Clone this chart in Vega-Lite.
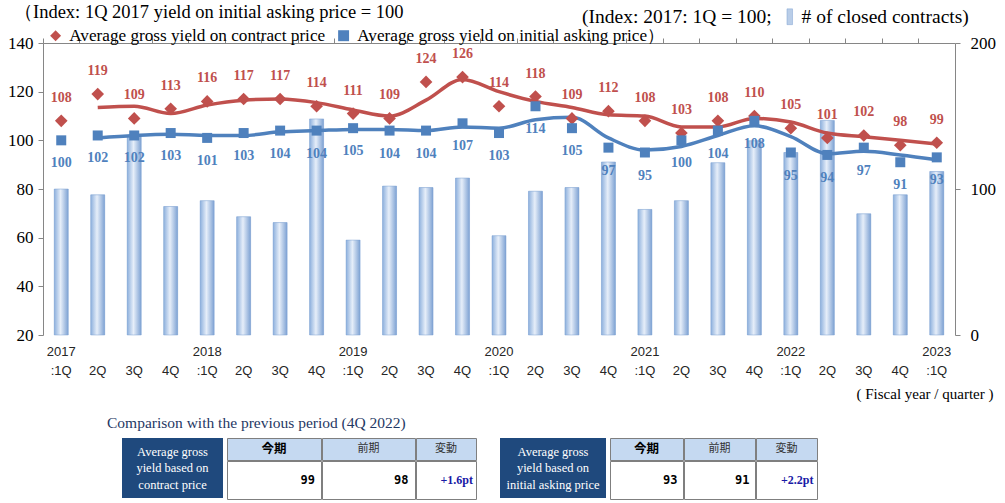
{
  "$schema": "https://vega.github.io/schema/vega-lite/v6.json",
  "padding": {"left": 7, "top": 2, "right": 0, "bottom": 0},
  "background": "white",
  "config": {
    "view": {"stroke": null},
    "axis": {"grid": false},
    "concat": {"spacing": 14}
  },
  "spacing": 15,
  "vconcat": [
    {
      "width": 912,
      "height": 292,
      "title": {"text": "（Index: 1Q 2017 yield on initial asking price = 100", "anchor": "start", "frame": "group", "dx": -29, "offset": 13, "font": "Liberation Serif", "fontSize": 18.5, "fontWeight": "normal", "color": "#000000"},
      "data": {"values": [
        {"q": "2017 :1Q", "contract": 108, "asking": 100, "count": 100},
        {"q": "2017 2Q", "contract": 119, "asking": 102, "count": 96, "lineC": 113.5, "lineA": 101},
        {"q": "2017 3Q", "contract": 109, "asking": 102, "count": 136, "lineC": 114, "lineA": 102},
        {"q": "2017 4Q", "contract": 113, "asking": 103, "count": 88, "lineC": 111, "lineA": 102.5},
        {"q": "2018 :1Q", "contract": 116, "asking": 101, "count": 92, "lineC": 114.5, "lineA": 102},
        {"q": "2018 2Q", "contract": 117, "asking": 103, "count": 81, "lineC": 116.5, "lineA": 102},
        {"q": "2018 3Q", "contract": 117, "asking": 104, "count": 77, "lineC": 117, "lineA": 103.5},
        {"q": "2018 4Q", "contract": 114, "asking": 104, "count": 148, "lineC": 115.5, "lineA": 104},
        {"q": "2019 :1Q", "contract": 111, "asking": 105, "count": 65, "lineC": 112.5, "lineA": 104.5},
        {"q": "2019 2Q", "contract": 109, "asking": 104, "count": 102, "lineC": 110, "lineA": 104.5},
        {"q": "2019 3Q", "contract": 124, "asking": 104, "count": 101, "lineC": 116.5, "lineA": 104},
        {"q": "2019 4Q", "contract": 126, "asking": 107, "count": 107.5, "lineC": 125, "lineA": 105.5},
        {"q": "2020 :1Q", "contract": 114, "asking": 103, "count": 68, "lineC": 120, "lineA": 105},
        {"q": "2020 2Q", "contract": 118, "asking": 114, "count": 98.5, "lineC": 116, "lineA": 108.5},
        {"q": "2020 3Q", "contract": 109, "asking": 105, "count": 101, "lineC": 113.5, "lineA": 109.5},
        {"q": "2020 4Q", "contract": 112, "asking": 97, "count": 118.5, "lineC": 110.5, "lineA": 101},
        {"q": "2021 :1Q", "contract": 108, "asking": 95, "count": 86, "lineC": 110, "lineA": 96},
        {"q": "2021 2Q", "contract": 103, "asking": 100, "count": 92, "lineC": 105.5, "lineA": 97.5},
        {"q": "2021 3Q", "contract": 108, "asking": 104, "count": 118, "lineC": 105.5, "lineA": 102},
        {"q": "2021 4Q", "contract": 110, "asking": 108, "count": 133, "lineC": 109, "lineA": 106},
        {"q": "2022 :1Q", "contract": 105, "asking": 95, "count": 125, "lineC": 107.5, "lineA": 101.5},
        {"q": "2022 2Q", "contract": 101, "asking": 94, "count": 147, "lineC": 103, "lineA": 94.5},
        {"q": "2022 3Q", "contract": 102, "asking": 97, "count": 83, "lineC": 101.5, "lineA": 95.5},
        {"q": "2022 4Q", "contract": 98, "asking": 91, "count": 96, "lineC": 100, "lineA": 94},
        {"q": "2023 :1Q", "contract": 99, "asking": 93, "count": 112, "lineC": 98.5, "lineA": 92}
      ]},
      "layer": [
        {
          "mark": {"type": "bar", "size": 14},
          "encoding": {
            "x": {"field": "q", "type": "ordinal", "sort": null, "scale": {"paddingInner": 0, "paddingOuter": 0},
              "axis": {"ticks": false, "domain": false, "labelAngle": 0,
                "labelExpr": "indexof(datum.value, ':') >= 0 ? split(datum.value, ' ') : ['', split(datum.value, ' ')[1]]",
                "labelFont": "Liberation Sans", "labelFontSize": 13, "labelColor": "#262626", "labelPadding": 10, "labelLineHeight": 19,
                "title": "( Fiscal year / quarter )", "titleFont": "Liberation Serif", "titleFontSize": 15, "titleFontWeight": "normal", "titleColor": "#000000",
                "titleX": 950, "titleY": 58, "titleAlign": "right", "titleBaseline": "middle"}},
            "y": {"field": "count", "type": "quantitative", "scale": {"domain": [0, 200], "nice": false},
              "axis": {"orient": "right", "values": [0, 100, 200], "tickSize": 5, "labelPadding": 10, "labelFont": "Liberation Serif", "labelFontSize": 17, "labelColor": "#000000", "domainColor": "#868686", "tickColor": "#868686", "title": null}},
            "fill": {"datum": "# of closed contracts)", "type": "nominal",
              "scale": {"range": ["#B9CDE8"]},
              "legend": {"orient": "none", "legendX": 539, "legendY": -36, "title": "(Index: 2017: 1Q = 100;", "titleOrient": "left", "titleFont": "Liberation Serif", "titleFontSize": 19.5, "titleFontWeight": "normal", "titleColor": "#000000", "titleLimit": 500, "titlePadding": 8, "labelFont": "Liberation Serif", "labelFontSize": 19.5, "labelColor": "#000000", "labelLimit": 500, "labelOffset": 2, "symbolType": "M-0.35,-1H0.35V1H-0.35Z", "symbolSize": 250, "symbolStrokeColor": "#7EA2D3", "symbolStrokeWidth": 0.5}}
          }
        },
        {
          "mark": {"type": "bar", "size": 14, "stroke": "#7EA2D3", "strokeWidth": 0.5,
            "fill": {"gradient": "linear", "x1": 0, "y1": 0, "x2": 1, "y2": 0, "stops": [{"offset": 0, "color": "#8DB0DD"}, {"offset": 0.45, "color": "#E6EEF9"}, {"offset": 1, "color": "#7EA2D3"}]}},
          "encoding": {
            "x": {"field": "q", "type": "ordinal", "sort": null, "axis": null},
            "y": {"field": "count", "type": "quantitative", "scale": {"domain": [0, 200], "nice": false}, "axis": null}
          }
        },
        {
          "encoding": {
            "x": {"field": "q", "type": "ordinal", "sort": null,
              "axis": {"bandPosition": 0, "labels": false, "ticks": true, "tickSize": 5, "domain": true, "domainColor": "#868686", "tickColor": "#868686", "title": null}}
          },
          "layer": [
            {
              "mark": {"type": "line", "color": "#C0504D", "strokeWidth": 3.5, "interpolate": "monotone"},
              "encoding": {"y": {"field": "lineC", "type": "quantitative", "title": null, "scale": {"domain": [20, 140], "nice": false},
                "axis": {"orient": "left", "values": [20, 40, 60, 80, 100, 120, 140], "tickSize": 5, "labelPadding": 5, "labelFont": "Liberation Serif", "labelFontSize": 17, "labelColor": "#000000", "domainColor": "#868686", "tickColor": "#868686", "title": null}}}
            },
            {
              "mark": {"type": "line", "color": "#4F81BD", "strokeWidth": 3.5, "interpolate": "monotone"},
              "encoding": {"y": {"field": "lineA", "type": "quantitative", "title": null, "scale": {"domain": [20, 140], "nice": false}}}
            },
            {
              "mark": {"type": "point", "filled": true, "opacity": 1, "size": 160},
              "encoding": {
                "y": {"field": "contract", "type": "quantitative", "title": null, "scale": {"domain": [20, 140], "nice": false}},
                "color": {"datum": "Average gross yield on contract price", "type": "nominal",
                  "scale": {"domain": ["Average gross yield on contract price", "Average gross yield on initial asking price）"], "range": ["#C0504D", "#4F81BD"]},
                  "legend": {"orient": "none", "legendX": 4, "legendY": -16, "direction": "horizontal", "title": null, "labelFont": "Liberation Serif", "labelFontSize": 17.2, "labelColor": "#000000", "labelLimit": 500, "symbolSize": 120, "columnPadding": 9, "labelOffset": 5}},
                "shape": {"datum": "Average gross yield on contract price", "type": "nominal",
                  "scale": {"domain": ["Average gross yield on contract price", "Average gross yield on initial asking price）"], "range": ["diamond", "square"]},
                  "legend": {"orient": "none", "legendX": 4, "legendY": -16, "direction": "horizontal", "title": null, "labelFont": "Liberation Serif", "labelFontSize": 17.2, "labelColor": "#000000", "labelLimit": 500, "symbolSize": 120, "columnPadding": 9, "labelOffset": 5}}
              }
            },
            {
              "mark": {"type": "point", "filled": true, "opacity": 1, "size": 100},
              "encoding": {
                "y": {"field": "asking", "type": "quantitative", "title": null, "scale": {"domain": [20, 140], "nice": false}},
                "color": {"datum": "Average gross yield on initial asking price）", "type": "nominal"},
                "shape": {"datum": "Average gross yield on initial asking price）", "type": "nominal"}
              }
            },
            {
              "mark": {"type": "text", "dy": -23, "font": "Liberation Serif", "fontSize": 14, "fontWeight": "bold", "color": "#C0504D"},
              "encoding": {"y": {"field": "contract", "type": "quantitative", "title": null, "scale": {"domain": [20, 140], "nice": false}}, "text": {"field": "contract", "type": "quantitative"}}
            },
            {
              "mark": {"type": "text", "dy": 23, "font": "Liberation Serif", "fontSize": 14, "fontWeight": "bold", "color": "#4F81BD"},
              "encoding": {"y": {"field": "asking", "type": "quantitative", "title": null, "scale": {"domain": [20, 140], "nice": false}}, "text": {"field": "asking", "type": "quantitative"}}
            }
          ]
        }
      ],
      "resolve": {"scale": {"y": "independent"}, "axis": {"x": "independent"}}
    },
    {
      "title": {"text": "Comparison with the previous period (4Q 2022)", "anchor": "start", "frame": "group", "dx": 64, "offset": 6, "font": "Liberation Serif", "fontSize": 15.5, "fontWeight": "normal", "color": "#1F3864"},
      "spacing": 23,
      "hconcat": [
        {"width": 56, "height": 60, "data": {"values": []}, "mark": {"type": "text"}},
        {
          "spacing": 3,
          "hconcat": [
            {"width": 101, "height": 60, "view": {"fill": "#1F497D", "stroke": null}, "data": {"values": [{"t": "Average gross|yield based on|contract price"}]}, "mark": {"type": "text", "lineBreak": "|", "lineHeight": 16.5, "dy": -16.5, "font": "Liberation Serif", "fontSize": 12.5, "color": "#FFFFFF"}, "encoding": {"text": {"field": "t", "type": "nominal"}}},
            {
              "spacing": -1,
              "vconcat": [
                {"spacing": -1, "hconcat": [
                  {"width": 94, "height": 22, "view": {"fill": "#C5D9F1", "stroke": "#7F7F7F"}, "data": {"values": [{"t": "今期"}]}, "mark": {"type": "text", "font": "Noto Sans CJK JP", "fontSize": 12.5, "fontWeight": "bold", "color": "#000000"}, "encoding": {"text": {"field": "t", "type": "nominal"}}},
                  {"width": 93, "height": 22, "view": {"fill": "#C5D9F1", "stroke": "#7F7F7F"}, "data": {"values": [{"t": "前期"}]}, "mark": {"type": "text", "font": "Noto Sans CJK JP", "fontSize": 11, "color": "#333333"}, "encoding": {"text": {"field": "t", "type": "nominal"}}},
                  {"width": 60, "height": 22, "view": {"fill": "#C5D9F1", "stroke": "#7F7F7F"}, "data": {"values": [{"t": "変動"}]}, "mark": {"type": "text", "font": "Noto Sans CJK JP", "fontSize": 11, "color": "#333333"}, "encoding": {"text": {"field": "t", "type": "nominal"}}}
                ]},
                {"spacing": -1, "hconcat": [
                  {"width": 94, "height": 38, "view": {"fill": "#FFFFFF", "stroke": "#7F7F7F"}, "data": {"values": [{"t": "99"}]}, "mark": {"type": "text", "align": "right", "dx": 41, "font": "DejaVu Sans Mono", "fontSize": 12, "fontWeight": "bold", "color": "#000000"}, "encoding": {"text": {"field": "t", "type": "nominal"}}},
                  {"width": 93, "height": 38, "view": {"fill": "#FFFFFF", "stroke": "#7F7F7F"}, "data": {"values": [{"t": "98"}]}, "mark": {"type": "text", "align": "right", "dx": 40, "font": "DejaVu Sans Mono", "fontSize": 12, "fontWeight": "bold", "color": "#000000"}, "encoding": {"text": {"field": "t", "type": "nominal"}}},
                  {"width": 60, "height": 38, "view": {"fill": "#FFFFFF", "stroke": "#7F7F7F"}, "data": {"values": [{"t": "+1.6pt"}]}, "mark": {"type": "text", "align": "right", "dx": 27, "font": "Liberation Serif", "fontSize": 12, "fontWeight": "bold", "color": "#1A1AA6"}, "encoding": {"text": {"field": "t", "type": "nominal"}}}
                ]}
              ]
            }
          ]
        },
        {
          "spacing": 3,
          "hconcat": [
            {"width": 106, "height": 60, "view": {"fill": "#1F497D", "stroke": null}, "data": {"values": [{"t": "Average gross|yield based on|initial asking price"}]}, "mark": {"type": "text", "lineBreak": "|", "lineHeight": 16.5, "dy": -16.5, "font": "Liberation Serif", "fontSize": 12.5, "color": "#FFFFFF"}, "encoding": {"text": {"field": "t", "type": "nominal"}}},
            {
              "spacing": -1,
              "vconcat": [
                {"spacing": -1, "hconcat": [
                  {"width": 73, "height": 22, "view": {"fill": "#C5D9F1", "stroke": "#7F7F7F"}, "data": {"values": [{"t": "今期"}]}, "mark": {"type": "text", "font": "Noto Sans CJK JP", "fontSize": 12.5, "fontWeight": "bold", "color": "#000000"}, "encoding": {"text": {"field": "t", "type": "nominal"}}},
                  {"width": 71, "height": 22, "view": {"fill": "#C5D9F1", "stroke": "#7F7F7F"}, "data": {"values": [{"t": "前期"}]}, "mark": {"type": "text", "font": "Noto Sans CJK JP", "fontSize": 11, "color": "#333333"}, "encoding": {"text": {"field": "t", "type": "nominal"}}},
                  {"width": 61, "height": 22, "view": {"fill": "#C5D9F1", "stroke": "#7F7F7F"}, "data": {"values": [{"t": "変動"}]}, "mark": {"type": "text", "font": "Noto Sans CJK JP", "fontSize": 11, "color": "#333333"}, "encoding": {"text": {"field": "t", "type": "nominal"}}}
                ]},
                {"spacing": -1, "hconcat": [
                  {"width": 73, "height": 38, "view": {"fill": "#FFFFFF", "stroke": "#7F7F7F"}, "data": {"values": [{"t": "93"}]}, "mark": {"type": "text", "align": "right", "dx": 31, "font": "DejaVu Sans Mono", "fontSize": 12, "fontWeight": "bold", "color": "#000000"}, "encoding": {"text": {"field": "t", "type": "nominal"}}},
                  {"width": 71, "height": 38, "view": {"fill": "#FFFFFF", "stroke": "#7F7F7F"}, "data": {"values": [{"t": "91"}]}, "mark": {"type": "text", "align": "right", "dx": 30, "font": "DejaVu Sans Mono", "fontSize": 12, "fontWeight": "bold", "color": "#000000"}, "encoding": {"text": {"field": "t", "type": "nominal"}}},
                  {"width": 61, "height": 38, "view": {"fill": "#FFFFFF", "stroke": "#7F7F7F"}, "data": {"values": [{"t": "+2.2pt"}]}, "mark": {"type": "text", "align": "right", "dx": 27, "font": "Liberation Serif", "fontSize": 12, "fontWeight": "bold", "color": "#1A1AA6"}, "encoding": {"text": {"field": "t", "type": "nominal"}}}
                ]}
              ]
            }
          ]
        }
      ]
    }
  ]
}
